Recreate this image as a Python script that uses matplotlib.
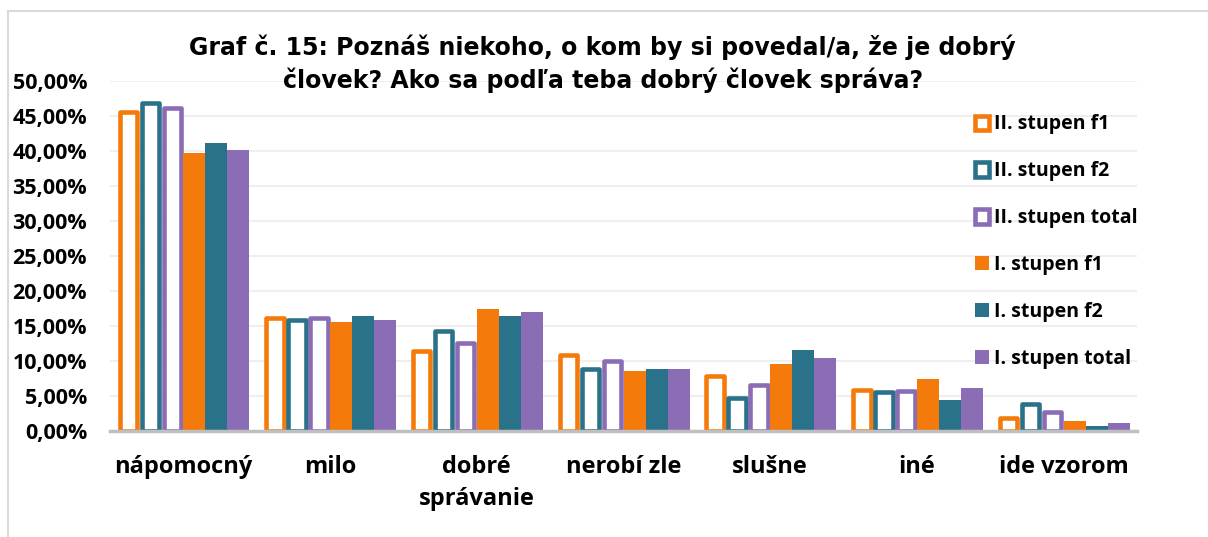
import numpy as np
import matplotlib
matplotlib.use("Agg")
import matplotlib.pyplot as plt
from matplotlib.patches import Patch
from matplotlib.lines import Line2D

# kategorie a hodnoty (v %)
categories = ["nápomocný", "milo", "dobré\nsprávanie", "nerobí zle", "slušne", "iné", "ide vzorom"]
ii_f1 = [45.6, 16.2, 11.5, 10.9, 7.9, 5.8, 1.9]
ii_f2 = [46.8, 15.8, 14.3, 8.8, 4.7, 5.6, 3.9]
ii_total = [46.1, 16.1, 12.6, 10.0, 6.6, 5.7, 2.7]
i_f1 = [39.7, 15.6, 17.4, 8.6, 9.6, 7.4, 1.4]
i_f2 = [41.2, 16.4, 16.4, 8.9, 11.6, 4.4, 0.7]
i_total = [40.2, 15.9, 17.0, 8.8, 10.4, 6.2, 1.1]
yticks = [0, 5, 10, 15, 20, 25, 30, 35, 40, 45, 50]

orange = "#F47B0B"
teal = "#2A7289"
purple = "#8A6DB5"

title = "Graf č. 15: Poznáš niekoho, o kom by si povedal/a, že je dobrý\nčlovek? Ako sa podľa teba dobrý človek správa?"

fig = plt.figure(figsize=(12.08, 5.37), dpi=100)
ax = fig.add_axes([110/1208, (537-431)/537, (1137-110)/1208, 350/537])

x = np.arange(len(categories))
w = 0.15
lw = 3.3
stroke = lw / 72 * 100 / 146.8  # sirka ciary v datovych jednotkach

outlined = [(ii_f1, orange, "II. stupen f1"), (ii_f2, teal, "II. stupen f2"),
            (ii_total, purple, "II. stupen total")]
filled = [(i_f1, orange, "I. stupen f1"), (i_f2, teal, "I. stupen f2"),
          (i_total, purple, "I. stupen total")]

for k, (vals, c, lab) in enumerate(outlined):
    ax.bar(x + (k - 2.5) * w, vals, width=w - stroke, facecolor="white",
           edgecolor=c, linewidth=lw, joinstyle="round", zorder=3)
for k, (vals, c, lab) in enumerate(filled):
    ax.bar(x + (k + 0.5) * w, vals, width=w, color=c, zorder=3)

font = "Open Sans"
ax.set_xlim(-0.5, len(categories) - 0.5)
ax.set_ylim(0, 50)
ax.set_yticks(yticks)
ax.set_yticklabels([f"{v:.2f}%".replace(".", ",") for v in yticks],
                   fontfamily=font, fontweight="bold", fontsize=15.5)
ax.set_xticks(x)
ax.set_xticklabels(categories, fontfamily=font, fontweight="bold", fontsize=17,
                   linespacing=1.45)
ax.tick_params(length=0)
ax.tick_params(axis="y", pad=16.5)
ax.tick_params(axis="x", pad=17)
for s in ax.spines.values():
    s.set_visible(False)
ax.grid(axis="y", color="#efefef", linewidth=1.5, zorder=0)
ax.axhline(0, color="#bfbfbf", linewidth=2.5, zorder=5, clip_on=False)

handles = [Patch(facecolor="white", edgecolor=c, linewidth=3.3, joinstyle="round", label=lab)
           for _, c, lab in outlined]
handles += [Patch(facecolor=c, edgecolor="none", label=lab) for _, c, lab in filled]
fig.legend(handles=handles, loc="upper left", bbox_to_anchor=(957/1208, 1 - 97/537),
           frameon=False, prop={"family": font, "weight": "bold", "size": 14},
           handlelength=0.75, handleheight=0.75, handletextpad=0.25, labelspacing=1.38)

fig.text(0.499, 1 - 34/537, title, ha="center", va="top", fontsize=17,
         fontweight="bold", fontfamily="DejaVu Sans", linespacing=1.38)

# ram grafu
fig.add_artist(Line2D([8/1208, 1], [1 - 11/537, 1 - 11/537], color="#d9d9d9", linewidth=1.5))
fig.add_artist(Line2D([8/1208, 8/1208], [0, 1 - 11/537], color="#d9d9d9", linewidth=1.5))

fig.savefig("out.png", dpi=100, facecolor="white")
